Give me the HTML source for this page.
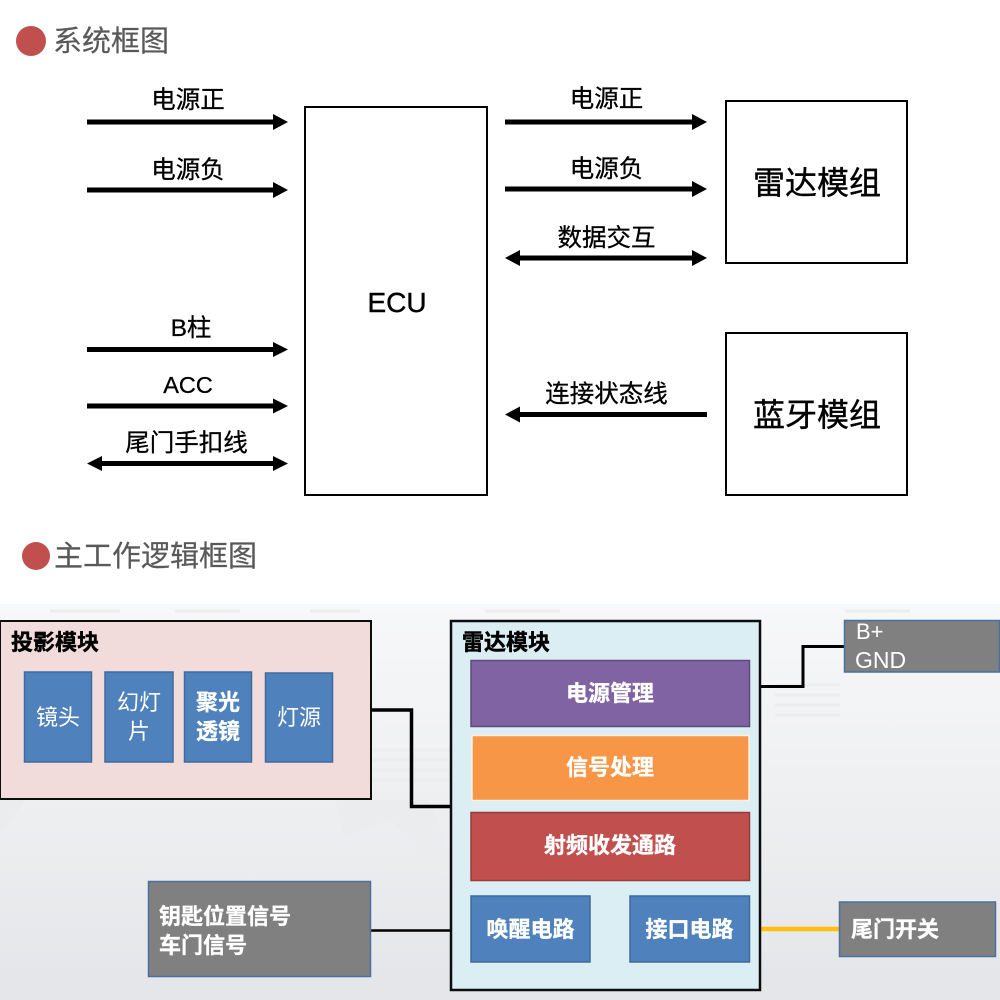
<!DOCTYPE html>
<html><head><meta charset="utf-8"><style>
html,body{margin:0;padding:0;background:#fff}
svg{display:block}
text{font-family:"Liberation Sans","Noto Sans CJK SC",sans-serif}
.l{font-size:24.5px;fill:#000;stroke:#000;stroke-width:.3px;text-anchor:middle}
.t{font-size:29px;fill:#595959;stroke:#595959;stroke-width:.2px}
.h{font-size:22px;font-weight:700;fill:#000;stroke:#000;stroke-width:.4px}
.w{font-size:22px;fill:#fff;text-anchor:middle}
.b{font-size:22px;font-weight:700;fill:#fff;stroke:#fff;stroke-width:.3px;text-anchor:middle}
.m{font-size:32px;fill:#000;stroke:#000;stroke-width:.4px;text-anchor:middle}
</style></head><body>
<svg width="1000" height="1000" viewBox="0 0 1000 1000" xmlns="http://www.w3.org/2000/svg">
<defs>
<linearGradient id="bg" x1="0" y1="0" x2="0" y2="1"><stop offset="0" stop-color="#f7f8f9"/><stop offset=".5" stop-color="#eeeff1"/><stop offset="1" stop-color="#e4e5e8"/></linearGradient>
<filter id="s" x="-2%" y="-2%" width="104%" height="104%"><feGaussianBlur stdDeviation=".35"/></filter>
</defs>
<rect width="1000" height="1000" fill="#fff"/>
<rect y="604" width="1000" height="396" fill="url(#bg)"/>
<!-- faint background artwork -->
<g stroke="#eceded" stroke-width="3" fill="none">
<path d="M50 611H120M175 611H240M310 611H360M485 611H560M845 611H910"/>
<path d="M371 770H451M371 780H451M371 760H451M371 750H451M775 685H840M775 695H840M775 705H840M775 715H840"/>
</g>
<path d="M0 800L25 800L0 835ZM335 800H430L451 860V880L390 820L345 838Z" fill="#ebecee"/>

<!-- headings -->
<circle cx="31" cy="41" r="15" fill="#c0504d"/>
<text class="t" x="53" y="51">系统框图</text>
<circle cx="36" cy="556" r="14" fill="#c0504d"/>
<text class="t" x="54" y="566">主工作逻辑框图</text>

<!-- top boxes -->
<g fill="#fff" stroke="#000" stroke-width="2">
<rect x="305" y="107" width="182" height="388"/>
<rect x="726" y="101" width="181" height="162"/>
<rect x="726" y="333" width="181" height="162"/>
</g>
<text x="397" y="312" text-anchor="middle" font-size="28" fill="#000" stroke="#000" stroke-width=".4">ECU</text>
<text class="m" x="817" y="194">雷达模组</text>
<text class="m" x="817" y="426">蓝牙模组</text>

<!-- left arrows -->
<g fill="#000">
<rect x="87" y="119.500" width="190" height="5"/><path d="M273 114L288 122L273 130Z"/>
<rect x="87" y="187.500" width="190" height="5"/><path d="M273 182L288 190L273 198Z"/>
<rect x="87" y="347" width="190" height="5"/><path d="M273 342L288 349.500L273 357Z"/>
<rect x="87" y="403.500" width="190" height="5"/><path d="M273 398.500L288 406L273 413.500Z"/>
<rect x="98" y="461" width="179" height="5"/><path d="M273 456L288 463.500L273 471Z"/><path d="M102 456L87 463.500L102 471Z"/>
<!-- right arrows -->
<rect x="505" y="119.500" width="190" height="5"/><path d="M692 114L707 122L692 130Z"/>
<rect x="505" y="186.500" width="190" height="5"/><path d="M692 181L707 189L692 197Z"/>
<rect x="516" y="255.500" width="179" height="5"/><path d="M692 250L707 258L692 266Z"/><path d="M520 250L505 258L520 266Z"/>
<rect x="516" y="412" width="191" height="5"/><path d="M520 406.500L505 414.500L520 422.500Z"/>
</g>
<text class="l" x="188" y="108">电源正</text>
<text class="l" x="188" y="178">电源负</text>
<text class="l" x="191" y="336">B柱</text>
<text class="l" x="188" y="393" style="font-size:23.500px">ACC</text>
<text class="l" x="186.500" y="451">尾门手扣线</text>
<text class="l" x="606.500" y="107">电源正</text>
<text class="l" x="606.500" y="177">电源负</text>
<text class="l" x="606.500" y="246">数据交互</text>
<text class="l" x="606.500" y="402">连接状态线</text>

<!-- lower diagram -->
<g filter="url(#s)">
<g fill="none" stroke="#000">
<path d="M371 710H411.500V806.500H452" stroke-width="3.500"/>
<path d="M371 930.500H452" stroke-width="2.500"/>
<path d="M760 686.500H803V646.500H845" stroke-width="3"/>
</g>
<path d="M761 929H839" stroke="#fdc00f" stroke-width="4.500" fill="none"/>

<!-- projection module -->
<rect x="0" y="621" width="371" height="178" fill="#f2dcdb" stroke="#111" stroke-width="2"/>
<text class="h" x="11" y="650">投影模块</text>
<g fill="#4f81bd" stroke="#41699c" stroke-width="1.500">
<rect x="24.500" y="672" width="67" height="90"/>
<rect x="105" y="672" width="68" height="90"/>
<rect x="184.500" y="672" width="67" height="90"/>
<rect x="265.500" y="673" width="67" height="89"/>
</g>
<text class="w" x="58" y="725">镜头</text>
<text class="w" x="139" y="710">幻灯</text>
<text class="w" x="139" y="739">片</text>
<text class="b" x="218" y="710">聚光</text>
<text class="b" x="218" y="739">透镜</text>
<text class="w" x="299" y="725">灯源</text>

<!-- radar module -->
<rect x="451" y="621" width="309" height="369" fill="#dbeef4" stroke="#111" stroke-width="2.500"/>
<text class="h" x="462" y="650">雷达模块</text>
<rect x="471" y="660.500" width="278.500" height="66" fill="#8064a2" stroke="#5e4a7c" stroke-width="1.500"/>
<rect x="472" y="735.500" width="277" height="65" fill="#f79646" stroke="#fdf0e4" stroke-width="1.500"/>
<rect x="471" y="812.500" width="278.500" height="68" fill="#c0504d" stroke="#943c39" stroke-width="1.500"/>
<rect x="471" y="896" width="119" height="66" fill="#4f81bd" stroke="#41699c" stroke-width="1.500"/>
<rect x="630" y="896" width="119.500" height="66" fill="#4f81bd" stroke="#41699c" stroke-width="1.500"/>
<text class="b" x="610" y="701">电源管理</text>
<text class="b" x="610" y="775">信号处理</text>
<text class="b" x="610" y="853">射频收发通路</text>
<text class="b" x="530.500" y="937">唤醒电路</text>
<text class="b" x="689.500" y="937">接口电路</text>

<!-- gray boxes -->
<g fill="#808080" stroke="#4a6f9f" stroke-width="1.500">
<rect x="148.500" y="881.500" width="222" height="95"/>
<rect x="844.500" y="620.500" width="155" height="51.500"/>
<rect x="839.500" y="902" width="156" height="54.500"/>
</g>
<text class="b" x="159" y="924" style="text-anchor:start">钥匙位置信号</text>
<text class="b" x="159" y="953" style="text-anchor:start">车门信号</text>
<text x="856" y="639" font-size="22" fill="#fff">B+</text>
<text x="855" y="668" font-size="23" fill="#fff">GND</text>
<text class="b" x="851" y="937" style="text-anchor:start">尾门开关</text>
</g>
</svg>
</body></html>
